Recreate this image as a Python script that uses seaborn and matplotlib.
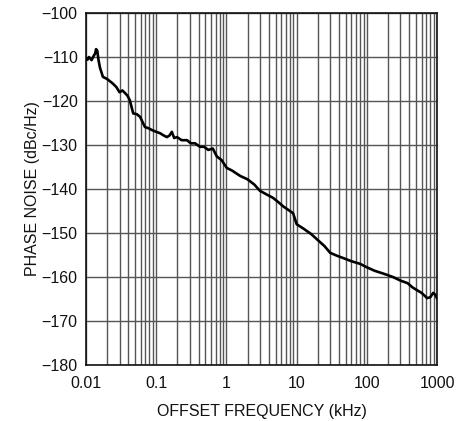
import numpy as np
import pandas as pd
import matplotlib
matplotlib.use('Agg')
import matplotlib.pyplot as plt
import matplotlib.ticker as mticker
import seaborn as sns

# Offset frequency (kHz) and phase noise (dBc/Hz)
freq_khz = [0.010, 0.0105, 0.011, 0.012, 0.0128, 0.0135, 0.0139, 0.0145, 0.015, 0.0158,
            0.0174, 0.020, 0.024, 0.027, 0.030, 0.033, 0.036, 0.039, 0.042, 0.047,
            0.053, 0.059, 0.064, 0.069, 0.078, 0.087, 0.10, 0.113, 0.127, 0.142,
            0.155, 0.167, 0.180, 0.198, 0.23, 0.275, 0.31, 0.357, 0.42, 0.48,
            0.55, 0.64, 0.73, 0.85, 1.01, 1.2, 1.56, 2.0, 2.5, 3.0,
            3.7, 4.6, 5.5, 6.5, 7.7, 8.9, 10.0, 12.5, 16, 20,
            25, 30, 38, 48, 60, 80, 100, 130, 170, 235,
            300, 380, 450, 519, 600, 680, 720, 800, 880, 940, 1000]
noise_dbc = [-110.2, -110.6, -110.0, -110.7, -109.8, -109.2, -108.2, -108.6, -110.5, -112.4,
             -114.5, -115.0, -116.0, -116.8, -118.0, -117.6, -118.2, -118.8, -119.8, -122.8,
             -123.0, -123.6, -124.8, -125.9, -126.2, -126.6, -127.0, -127.3, -127.8, -128.2,
             -127.8, -127.0, -128.4, -128.2, -128.9, -128.9, -129.6, -129.6, -130.4, -130.4,
             -131.1, -130.8, -132.6, -133.4, -135.2, -135.8, -137.0, -137.8, -139.0, -140.4,
             -141.2, -142.0, -143.0, -144.0, -144.8, -145.5, -148.0, -149.0, -150.2, -151.6,
             -153.0, -154.5, -155.2, -155.8, -156.4, -157.0, -157.8, -158.6, -159.2, -160.0,
             -160.8, -161.4, -162.4, -163.0, -163.6, -164.4, -164.8, -164.6, -163.6, -164.0, -164.9]

x_ticks = [0.01, 0.1, 1, 10, 100, 1000]
x_tick_labels = ['0.01', '0.1', '1', '10', '100', '1000']
y_ticks = list(range(-180, -99, 10))

df = pd.DataFrame({'freq': freq_khz, 'noise': noise_dbc})

sns.set_theme(style='white')
plt.rcParams['font.family'] = ['Liberation Sans Narrow', 'Liberation Sans', 'DejaVu Sans']
plt.rcParams['axes.unicode_minus'] = True

fig = plt.figure(figsize=(4.7, 4.21), dpi=100)
ax = fig.add_axes([0.183, 0.133, 0.747, 0.836])

sns.lineplot(data=df, x='freq', y='noise', ax=ax, color='black', linewidth=1.9, zorder=3)

ax.set_xscale('log')
ax.set_xlim(0.01, 1000)
ax.set_ylim(-180, -100)
ax.set_xticks(x_ticks)
ax.set_xticklabels(x_tick_labels)
ax.xaxis.set_minor_locator(mticker.LogLocator(base=10, subs=np.arange(2, 10)))
ax.xaxis.set_minor_formatter(mticker.NullFormatter())
ax.set_yticks(y_ticks)
ax.set_yticklabels([f'\u2212{abs(v)}' for v in y_ticks])

ax.grid(which='major', axis='both', color='#555555', linewidth=1.0)
ax.grid(which='minor', axis='x', color='#555555', linewidth=1.0)
ax.tick_params(which='both', length=0, labelsize=11.5, colors='#111111')
ax.tick_params(axis='x', pad=8)
ax.tick_params(axis='y', pad=6)

for s in ax.spines.values():
    s.set_color('#111111')
    s.set_linewidth(1.2)

ax.set_xlabel('OFFSET FREQUENCY (kHz)', fontsize=11.5, color='#111111', labelpad=9)
ax.set_ylabel('PHASE NOISE (dBc/Hz)', fontsize=11.5, color='#111111', labelpad=1)

fig.savefig('out.png', dpi=100)
